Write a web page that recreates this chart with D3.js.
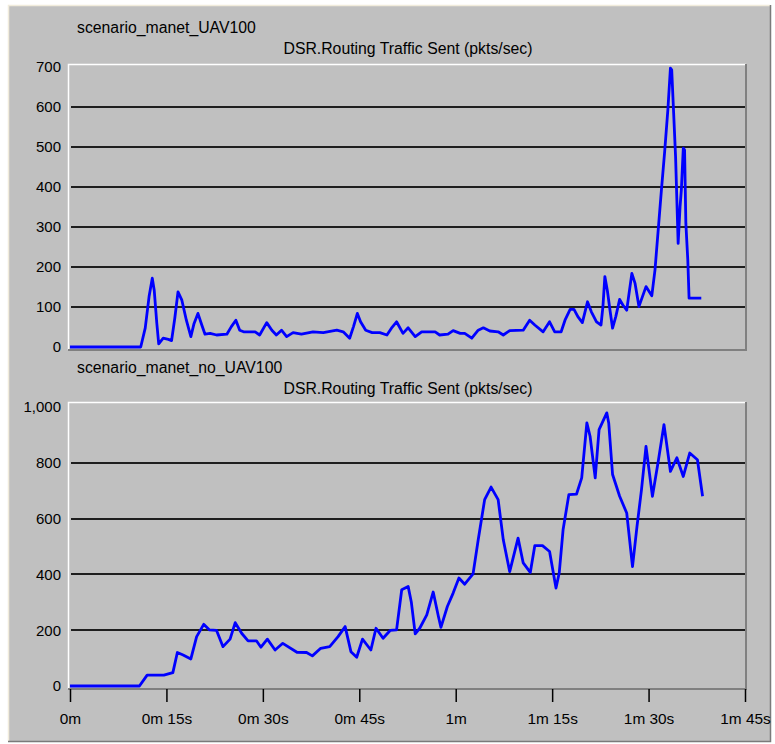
<!DOCTYPE html>
<html>
<head>
<meta charset="utf-8">
<script src="https://cdn.jsdelivr.net/npm/d3@7"></script>
<style>
  html, body { margin: 0; padding: 0; background: #ffffff; }
  svg { display: block; }
  text { font-family: "Liberation Sans", Arial, sans-serif; fill: #000; }
</style>
</head>
<body>
<svg id="chart" width="775" height="744"></svg>
<script>
// ---------------- data ----------------
const topTitle = "scenario_manet_UAV100";
const bottomTitle = "scenario_manet_no_UAV100";
const statTitle = "DSR.Routing Traffic Sent (pkts/sec)";

// time (s) of each sample in the top panel
const topTimes = [0, 11, 11.7, 12.3, 12.8, 13.1, 13.5, 13.8, 14.5, 15.3, 15.8, 16.3, 16.8, 17.4, 18.1, 18.8,
  19.3, 19.9, 20.5, 21, 21.8, 22.8, 24.4, 25.1, 25.8, 26.4, 27, 28.8, 29.5, 30.6, 31.4, 32.1, 32.9, 33.7,
  34.7, 36, 37.8, 39.4, 41.5, 42.5, 43.5, 44.1, 44.7, 45.2, 46, 47, 48.2, 49.3, 50, 50.8, 51.8, 52.6,
  53.7, 54.7, 56.8, 57.5, 58.8, 59.6, 60.7, 61.4, 62.5, 63.5, 64.3, 65.3, 66.6, 67.4, 68.4, 70.5, 71.5,
  72.3, 73.6, 74.6, 75.4, 76.4, 77, 77.8, 78.4, 79, 79.7, 80.5, 81.1, 81.9, 82.6, 82.9, 83.2, 83.6, 84,
  84.4, 84.9, 85.5, 86, 86.6, 87.4, 87.9, 88.5, 89.6, 90.5, 91, 91.5, 92, 92.5, 93, 93.4, 93.6, 93.9,
  94.2, 94.4, 94.6, 94.9, 95.1, 95.4, 95.6, 95.8, 96.1, 96.3, 98.2];
const topValues = [0, 0, 47, 126, 172, 142, 60, 8, 22, 19, 16, 72, 138, 117, 67, 26,
  59, 84, 55, 32, 34, 30, 32, 51, 67, 42, 38, 38, 30, 61, 42, 30, 42, 26,
  36, 32, 38, 36, 42, 38, 22, 51, 84, 63, 42, 36, 36, 30, 47, 63, 34, 48,
  26, 38, 38, 30, 32, 41, 34, 34, 22, 42, 48, 40, 38, 30, 41, 42, 67,
  55, 38, 63, 38, 38, 67, 94, 94, 76, 61, 113, 88, 63, 55, 101, 176, 140, 92,
  47, 76, 119, 105, 92, 184, 159, 101, 151, 128, 193, 293, 393, 488, 593, 697, 693, 585,
  476, 368, 259, 351, 393, 497, 493, 309, 218, 122, 122];

// time (s) of each sample in the bottom panel
const bottomTimes = [0, 10.8, 12, 14.6, 16, 16.7, 17.6, 18.8, 19.7, 20.8, 21.7, 22.8, 23.8, 24.9, 25.7,
  26.7, 27.7, 29, 29.7, 30.7, 31.9, 33.1, 35.3, 36.8, 37.7, 39, 40.4, 41.7, 42.8, 43.7, 44.6, 45.5,
  46.8, 47.6, 48.7, 49.8, 50.8, 51.6, 52.6, 53.1, 53.7, 54.4, 55.5, 56.5, 57.3, 57.7, 58.7, 59.6,
  60.5, 61.4, 62.7, 63.5, 64.5, 65.5, 66.6, 67.4, 68.4, 69.7, 70.5, 71.6, 72.3, 73.5, 74.6, 75.6,
  76.1, 76.7, 77.6, 78.8, 79.6, 80.4, 80.9, 81.7, 82.3, 83.5, 83.8, 84.4, 85.5, 86.6, 87.5, 88.2,
  88.9, 89.6, 90.6, 91.5, 92.4, 93.4, 94.4, 95.4, 96.4, 97.6, 98.4];
const bottomValues = [0, 0, 39, 39, 48, 120, 111, 97, 177, 221, 201, 199, 141, 168, 227,
  189, 162, 162, 139, 168, 129, 153, 121, 120, 108, 135, 141, 177, 213, 123, 103, 168,
  129, 207, 171, 199, 201, 345, 357, 300, 187, 207, 255, 337, 250, 210, 285, 333,
  387, 365, 402, 524, 668, 713, 668, 524, 410, 530, 441, 407, 503, 503, 482, 351,
  405, 560, 686, 688, 746, 943, 895, 746, 919, 979, 943, 758, 680, 620, 428, 572,
  704, 859, 680, 805, 937, 769, 818, 751, 835, 811, 680];

const topYTicks = [0, 100, 200, 300, 400, 500, 600, 700];
const bottomYTicks = [0, 200, 400, 600, 800, 1000];
const xTickValues = [0, 15, 30, 45, 60, 75, 90, 105];
const xTickLabels = ["0m", "0m 15s", "0m 30s", "0m 45s", "1m", "1m 15s", "1m 30s", "1m 45s"];

// ---------------- drawing ----------------
const svg = d3.select("#chart");
const FONT = 15;
const TITLE_FONT = 15.8;

// outer window panel
svg.append("rect").attr("x", 8).attr("y", 5).attr("width", 762).attr("height", 736)
  .attr("fill", "#c0c0c0");
svg.append("path").attr("d", "M8.5,741V5.5H770").attr("fill", "none").attr("stroke", "#f1ecdc").attr("stroke-width", 1.5);
svg.append("path").attr("d", "M8,741.5H770.5V5").attr("fill", "none").attr("stroke", "#7a7a7a").attr("stroke-width", 1.5);

const x = d3.scaleLinear().domain([0, 105]).range([70, 745]);

function panel(cfg) {
  const g = svg.append("g");
  const y = cfg.y;
  const [fx0, fx1, fy0, fy1] = cfg.frame;

  // titles
  g.append("text").attr("x", 77).attr("y", cfg.titleY).attr("font-size", TITLE_FONT).text(cfg.title);
  g.append("text").attr("x", 408).attr("y", cfg.titleY + 21).attr("font-size", TITLE_FONT)
    .attr("text-anchor", "middle").text(statTitle);

  // frame (sunken look)
  g.append("path").attr("d", `M${fx0 + 0.5},${fy1}V${fy0 + 0.5}H${fx1}`)
    .attr("fill", "none").attr("stroke", "#ffffff").attr("stroke-width", 1.5);
  g.append("path").attr("d", `M${fx0},${fy1}H${fx1}V${fy0}`)
    .attr("fill", "none").attr("stroke", "#808080").attr("stroke-width", 2);

  // gridlines
  const inner = cfg.ticks.filter(v => v > 0 && v < d3.max(cfg.ticks));
  g.selectAll("line.grid").data(inner).join("line")
    .attr("class", "grid")
    .attr("x1", fx0 + 3).attr("x2", fx1 - 1)
    .attr("y1", d => Math.round(y(d))).attr("y2", d => Math.round(y(d)))
    .attr("stroke", "#1e1e1e").attr("stroke-width", 2)
    .attr("shape-rendering", "crispEdges");

  // y axis labels
  const ya = g.append("g").attr("transform", `translate(${fx0},0)`)
    .call(d3.axisLeft(y).tickValues(cfg.ticks).tickSize(0).tickPadding(7).tickFormat(d3.format(",")));
  ya.select(".domain").remove();
  ya.selectAll("text").attr("font-size", FONT).attr("font-family", "Liberation Sans, Arial, sans-serif")
    .attr("fill", "#000");

  // data line
  const pts = cfg.times.map((t, i) => ({ t, v: cfg.values[i] }));
  g.append("path").datum(pts)
    .attr("d", d3.line().x(d => x(d.t)).y(d => y(d.v)))
    .attr("fill", "none").attr("stroke", "#0000ff").attr("stroke-width", 2.8)
    .attr("stroke-linejoin", "round");
  return g;
}

const yTop = d3.scaleLinear().domain([0, 700]).range([347, 67]);
panel({ title: topTitle, titleY: 33, y: yTop, ticks: topYTicks, frame: [68, 746, 64, 350],
  times: topTimes, values: topValues });

const yBot = d3.scaleLinear().domain([0, 1000]).range([686, 407]);
panel({ title: bottomTitle, titleY: 373, y: yBot, ticks: bottomYTicks, frame: [68, 746, 402, 689],
  times: bottomTimes, values: bottomValues });

// x axis (bottom panel only)
const xa = svg.append("g").attr("transform", "translate(0,689)")
  .call(d3.axisBottom(x).tickValues(xTickValues).tickSize(13).tickPadding(11)
    .tickFormat((d, i) => xTickLabels[i]));
xa.select(".domain").remove();
xa.selectAll("line").attr("stroke", "#000").attr("stroke-width", 1.5);
xa.selectAll("text").attr("font-size", 15.4).attr("font-family", "Liberation Sans, Arial, sans-serif")
  .attr("fill", "#000");
</script>
</body>
</html>
